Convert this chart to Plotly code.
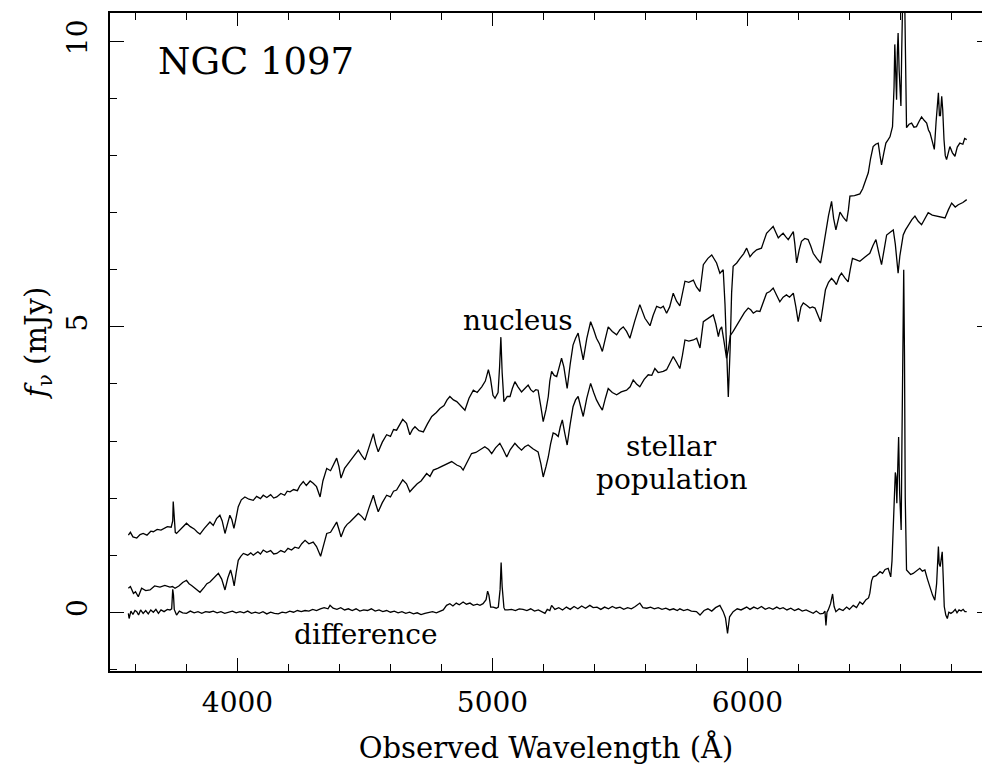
import plotly.graph_objects as go

# ---------------- data ----------------
nuc_wl = [3572, 3580, 3590, 3605, 3618, 3630, 3645, 3660, 3670, 3685, 3700, 3710, 3725, 3740, 3746, 3748, 3751, 3756, 3761, 3775,
          3790, 3800, 3815, 3830, 3843, 3853, 3870, 3885, 3892, 3905, 3918, 3931, 3940, 3951, 3962, 3970, 3978, 3986, 3993, 4003,
          4015, 4029, 4045, 4062, 4075, 4090, 4101, 4115, 4130, 4142, 4154, 4170, 4185, 4195, 4206, 4220, 4235, 4245, 4258, 4270,
          4285, 4297, 4310, 4324, 4335, 4350, 4365, 4378, 4389, 4398, 4406, 4420, 4430, 4441, 4455, 4465, 4474, 4487, 4500, 4515,
          4533, 4542, 4552, 4568, 4585, 4600, 4612, 4624, 4637, 4648, 4663, 4676, 4686, 4696, 4712, 4729, 4745, 4762, 4780, 4794,
          4810, 4822, 4833, 4847, 4860, 4875, 4892, 4908, 4925, 4940, 4958, 4972, 4984, 4992, 5002, 5010, 5022, 5028, 5033, 5038,
          5045, 5058, 5069, 5078, 5088, 5100, 5114, 5127, 5140, 5150, 5160, 5170, 5179, 5190, 5199, 5210, 5219, 5225, 5232, 5242,
          5252, 5262, 5271, 5280, 5293, 5305, 5316, 5326, 5336, 5346, 5356, 5370, 5385, 5397, 5408, 5420, 5431, 5443, 5454, 5470,
          5487, 5500, 5513, 5526, 5539, 5558, 5578, 5598, 5618, 5630, 5644, 5660, 5670, 5683, 5695, 5709, 5722, 5735, 5745, 5755,
          5770, 5788, 5800, 5814, 5827, 5845, 5860, 5872, 5879, 5892, 5905, 5912, 5918, 5925, 5932, 5938, 5944, 5958, 5971, 5985,
          5997, 6010, 6023, 6036, 6055, 6065, 6075, 6088, 6101, 6112, 6121, 6130, 6140, 6150, 6160, 6170, 6180, 6186, 6193, 6203,
          6212, 6225, 6238, 6248, 6258, 6272, 6287, 6296, 6304, 6318, 6330, 6338, 6347, 6355, 6363, 6376, 6389, 6396, 6402, 6420,
          6441, 6452, 6461, 6474, 6483, 6493, 6503, 6513, 6520, 6526, 6535, 6543, 6552, 6559, 6569, 6575, 6578, 6582, 6585, 6588,
          6591, 6595, 6598, 6602, 6605, 6608, 6612, 6616, 6620, 6624, 6634, 6644, 6653, 6663, 6673, 6683, 6693, 6703, 6710, 6716,
          6725, 6733, 6740, 6749, 6753, 6757, 6762, 6766, 6771, 6776, 6781, 6788, 6794, 6804, 6814, 6823, 6833, 6845, 6852, 6860]
nuc_f = [1.35, 1.40, 1.32, 1.30, 1.36, 1.38, 1.35, 1.42, 1.41, 1.45, 1.44, 1.47, 1.50, 1.49, 1.60, 1.94, 1.70, 1.40, 1.38, 1.45,
         1.52, 1.56, 1.50, 1.46, 1.40, 1.37, 1.47, 1.55, 1.58, 1.52, 1.64, 1.70, 1.60, 1.38, 1.60, 1.70, 1.62, 1.47, 1.62, 1.85,
         1.97, 2.02, 1.98, 1.96, 2.03, 1.99, 2.05, 2.01, 2.06, 2.00, 2.02, 2.08, 2.05, 2.12, 2.11, 2.15, 2.13, 2.22, 2.29, 2.22,
         2.30, 2.26, 2.20, 2.02, 2.30, 2.52, 2.48, 2.60, 2.70, 2.55, 2.35, 2.52, 2.58, 2.64, 2.72, 2.80, 2.84, 2.75, 2.67, 2.88,
         3.13, 2.95, 2.81, 2.98, 3.11, 3.08, 3.20, 3.19, 3.30, 3.38, 3.31, 3.11, 3.20, 3.25, 3.18, 3.16, 3.30, 3.43, 3.50, 3.57,
         3.62, 3.72, 3.78, 3.72, 3.69, 3.62, 3.54, 3.75, 3.89, 3.85, 3.95, 4.05, 4.25, 4.10, 3.80, 3.75, 3.85, 4.30, 4.82, 4.20,
         3.69, 3.78, 3.78, 3.92, 4.04, 3.95, 3.86, 3.92, 3.98, 3.90, 3.86, 3.90, 3.89, 3.60, 3.34, 3.55, 3.78, 4.05, 4.22, 4.15,
         4.13, 4.30, 4.45, 4.30, 3.92, 4.35, 4.68, 4.80, 4.89, 4.65, 4.42, 4.80, 5.09, 4.95, 4.80, 4.70, 4.57, 4.80, 5.00, 4.92,
         4.86, 4.95, 5.00, 4.92, 4.80, 5.10, 5.39, 5.15, 5.02, 5.20, 5.36, 5.33, 5.36, 5.24, 5.35, 5.59, 5.45, 5.37, 5.60, 5.80,
         5.78, 5.82, 5.70, 5.62, 6.09, 6.20, 6.26, 6.18, 6.12, 5.94, 6.00, 5.40, 4.50, 3.77, 4.60, 5.60, 6.06, 6.12, 6.20, 6.28,
         6.38, 6.23, 6.30, 6.35, 6.38, 6.50, 6.64, 6.70, 6.76, 6.65, 6.56, 6.60, 6.64, 6.58, 6.53, 6.60, 6.67, 6.45, 6.12, 6.35,
         6.50, 6.55, 6.53, 6.42, 6.29, 6.20, 6.12, 6.35, 6.60, 6.95, 7.20, 6.90, 6.70, 6.88, 7.01, 6.92, 6.85, 7.05, 7.29, 7.30,
         7.33, 7.42, 7.54, 7.70, 7.95, 8.16, 8.20, 8.22, 8.00, 7.84, 8.05, 8.22, 8.28, 8.33, 8.51, 9.20, 9.95, 9.30, 8.98, 9.80,
         10.15, 9.50, 9.27, 8.87, 9.80, 10.8, 11.5, 11.0, 9.50, 8.49, 8.55, 8.57, 8.50, 8.51, 8.60, 8.68, 8.62, 8.57, 8.45, 8.40,
         8.25, 8.11, 8.60, 9.10, 8.70, 8.70, 9.04, 8.80, 8.28, 8.00, 7.93, 8.05, 8.16, 8.05, 7.99, 8.15, 8.22, 8.20, 8.30, 8.28]

stel_wl = [3572, 3580, 3592, 3600, 3611, 3618, 3624, 3640, 3657, 3675, 3696, 3715, 3735, 3745, 3755, 3770, 3785, 3800, 3810, 3820,
           3835, 3853, 3870, 3880, 3892, 3908, 3925, 3938, 3951, 3962, 3973, 3980, 3987, 3995, 4003, 4013, 4023, 4040, 4052, 4062,
           4080, 4090, 4101, 4115, 4130, 4142, 4154, 4170, 4185, 4198, 4212, 4225, 4240, 4252, 4265, 4280, 4297, 4310, 4326, 4338,
           4350, 4365, 4378, 4389, 4398, 4406, 4420, 4430, 4441, 4458, 4474, 4487, 4500, 4515, 4533, 4542, 4552, 4568, 4585, 4600,
           4612, 4624, 4637, 4648, 4663, 4676, 4690, 4705, 4720, 4742, 4755, 4768, 4785, 4800, 4820, 4840, 4860, 4875, 4885, 4900,
           4918, 4935, 4952, 4970, 4985, 4997, 5012, 5029, 5042, 5056, 5070, 5088, 5100, 5114, 5127, 5140, 5160, 5179, 5190, 5199,
           5210, 5219, 5228, 5238, 5248, 5258, 5266, 5274, 5283, 5293, 5305, 5316, 5326, 5336, 5346, 5356, 5370, 5385, 5397, 5408,
           5420, 5431, 5443, 5454, 5470, 5487, 5505, 5526, 5540, 5552, 5565, 5578, 5595, 5611, 5625, 5637, 5650, 5670, 5683, 5695,
           5709, 5722, 5735, 5745, 5755, 5770, 5788, 5801, 5814, 5827, 5845, 5866, 5876, 5886, 5892, 5899, 5908, 5918, 5925, 5933,
           5944, 5958, 5971, 5988, 6003, 6013, 6023, 6036, 6049, 6062, 6075, 6088, 6101, 6115, 6127, 6140, 6153, 6165, 6180, 6190,
           6199, 6210, 6219, 6232, 6245, 6255, 6265, 6277, 6287, 6296, 6306, 6318, 6330, 6340, 6349, 6360, 6369, 6382, 6395, 6403,
           6412, 6425, 6441, 6460, 6480, 6492, 6504, 6515, 6526, 6536, 6546, 6560, 6572, 6580, 6587, 6591, 6598, 6611, 6620, 6631,
           6645, 6657, 6670, 6683, 6695, 6709, 6725, 6742, 6760, 6775, 6788, 6801, 6815, 6827, 6845, 6860]
stel_f = [0.42, 0.45, 0.33, 0.36, 0.27, 0.35, 0.42, 0.38, 0.39, 0.46, 0.44, 0.47, 0.44, 0.45, 0.42, 0.46, 0.52, 0.56, 0.50, 0.47,
          0.42, 0.35, 0.44, 0.50, 0.53, 0.60, 0.68, 0.58, 0.39, 0.60, 0.74, 0.62, 0.46, 0.70, 0.91, 0.98, 1.03, 1.00, 1.04, 1.00,
          1.06, 1.02, 1.09, 1.05, 1.08, 1.02, 1.03, 1.08, 1.05, 1.12, 1.09, 1.14, 1.12, 1.20, 1.26, 1.20, 1.23, 1.15, 0.98, 1.18,
          1.38, 1.40, 1.50, 1.58, 1.45, 1.32, 1.48, 1.54, 1.58, 1.66, 1.73, 1.68, 1.61, 1.82, 2.05, 1.90, 1.76, 1.92, 2.05, 2.02,
          2.12, 2.14, 2.25, 2.32, 2.25, 2.11, 2.18, 2.25, 2.30, 2.43, 2.38, 2.49, 2.52, 2.55, 2.60, 2.64, 2.58, 2.55, 2.49, 2.62,
          2.78, 2.80, 2.85, 2.90, 2.85, 2.78, 2.88, 2.96, 2.85, 2.72, 2.85, 2.96, 2.90, 2.84, 2.90, 2.93, 2.86, 2.81, 2.60, 2.37,
          2.55, 2.72, 2.95, 3.14, 3.12, 3.08, 3.25, 3.37, 3.15, 2.93, 3.30, 3.60, 3.72, 3.78, 3.60, 3.43, 3.75, 4.01, 3.85, 3.72,
          3.62, 3.54, 3.75, 3.92, 3.85, 3.81, 3.86, 3.89, 3.95, 4.07, 4.00, 3.95, 4.08, 4.16, 4.15, 4.27, 4.20, 4.22, 4.25, 4.35,
          4.48, 4.38, 4.27, 4.50, 4.77, 4.75, 4.77, 4.80, 4.63, 5.09, 5.15, 5.21, 5.05, 4.83, 4.95, 5.00, 4.75, 4.45, 4.60, 4.85,
          4.92, 5.02, 5.12, 5.25, 5.33, 5.30, 5.24, 5.28, 5.27, 5.45, 5.59, 5.62, 5.68, 5.55, 5.44, 5.52, 5.56, 5.52, 5.59, 5.35,
          5.09, 5.35, 5.42, 5.38, 5.33, 5.35, 5.33, 5.20, 5.09, 5.35, 5.65, 5.78, 5.85, 5.80, 5.74, 5.88, 5.94, 5.86, 5.79, 6.00,
          6.20, 6.18, 6.15, 6.22, 6.29, 6.42, 6.53, 6.30, 6.09, 6.35, 6.61, 6.66, 6.70, 6.45, 6.05, 5.94, 6.25, 6.61, 6.70, 6.79,
          6.88, 6.94, 6.85, 6.79, 6.90, 7.00, 6.96, 6.94, 6.92, 6.91, 7.05, 7.17, 7.10, 7.14, 7.18, 7.23]

diff_wl = [3572, 3575, 3582, 3590, 3598, 3605, 3612, 3620, 3630, 3640, 3650, 3660, 3670, 3680, 3690, 3700, 3712, 3725, 3735, 3742,
           3746, 3749, 3752, 3761, 3772, 3785, 3800, 3815, 3830, 3845, 3860, 3875, 3890, 3905, 3920, 3935, 3950, 3965, 3980, 3995,
           4010, 4025, 4040, 4055, 4070, 4085, 4100, 4115, 4130, 4145, 4160, 4175, 4190, 4205, 4220, 4235, 4250, 4265, 4280, 4295,
           4310, 4325, 4340, 4355, 4363, 4375, 4390, 4405, 4420, 4435, 4450, 4465, 4480, 4495, 4510, 4525, 4540, 4555, 4570, 4585,
           4600, 4615, 4630, 4645, 4660, 4675, 4690, 4705, 4720, 4735, 4750, 4765, 4780, 4795, 4807, 4820, 4833, 4845, 4858, 4870,
           4885, 4898, 4912, 4925, 4940, 4951, 4963, 4975, 4981, 4986, 4993, 5003, 5015, 5023, 5030, 5034, 5038, 5045, 5049, 5060,
           5075, 5090, 5105, 5120, 5135, 5150, 5165, 5180, 5195, 5206, 5215, 5225, 5232, 5245, 5260, 5275, 5290, 5305, 5320, 5335,
           5350, 5365, 5382, 5395, 5410, 5425, 5440, 5455, 5470, 5485, 5500, 5515, 5530, 5545, 5560, 5578, 5590, 5605, 5620, 5635,
           5650, 5665, 5680, 5695, 5710, 5725, 5735, 5750, 5765, 5780, 5800, 5814, 5830, 5845, 5860, 5875, 5892, 5905, 5914, 5922,
           5930, 5944, 5960, 5975, 5997, 6010, 6025, 6040, 6055, 6070, 6085, 6100, 6115, 6127, 6140, 6155, 6170, 6185, 6200, 6215,
           6230, 6245, 6258, 6270, 6285, 6297, 6304, 6308, 6312, 6317, 6326, 6334, 6340, 6347, 6360, 6375, 6389, 6400, 6415, 6428,
           6441, 6452, 6465, 6475, 6480, 6487, 6493, 6505, 6520, 6530, 6540, 6552, 6558, 6562, 6567, 6572, 6576, 6580, 6583, 6586,
           6590, 6593, 6597, 6600, 6603, 6606, 6610, 6613, 6616, 6619, 6624, 6632, 6640, 6650, 6660, 6668, 6676, 6686, 6696, 6706,
           6716, 6726, 6735, 6742, 6749, 6752, 6756, 6760, 6764, 6768, 6772, 6778, 6784, 6790, 6798, 6807, 6815, 6822, 6830, 6838,
           6846, 6853, 6860]
diff_f = [-0.02, -0.11, 0.02, -0.04, 0.03, 0.01, -0.05, 0.04, -0.02, 0.03, -0.03, 0.04, 0.00, 0.05, -0.02, 0.04, 0.01, 0.05, 0.04, 0.06,
          0.40, 0.30, 0.05, -0.05, 0.02, -0.01, -0.02, 0.02, -0.01, 0.01, -0.02, 0.01, 0.00, 0.02, -0.01, 0.01, -0.02, 0.00, 0.02, -0.01,
          0.01, -0.01, 0.02, -0.02, 0.00, -0.02, 0.01, -0.03, 0.00, -0.02, -0.03, 0.00, -0.01, 0.02, 0.00, 0.03, 0.01, 0.03, 0.02, 0.05,
          0.03, 0.06, 0.08, 0.06, 0.12, 0.07, 0.05, 0.08, 0.04, 0.06, 0.03, 0.06, 0.02, 0.04, 0.03, 0.06, 0.02, 0.04, 0.01, 0.03,
          0.00, 0.02, -0.01, 0.01, -0.02, 0.00, -0.03, -0.01, -0.04, -0.02, -0.01, 0.01, -0.01, 0.02, 0.04, 0.12, 0.15, 0.11, 0.16, 0.13,
          0.18, 0.14, 0.16, 0.12, 0.14, 0.12, 0.15, 0.22, 0.37, 0.30, 0.09, 0.09, 0.07, 0.09, 0.40, 0.87, 0.45, 0.08, 0.04, 0.04,
          0.05, 0.03, 0.06, 0.05, 0.03, 0.06, 0.02, 0.04, 0.00, -0.02, 0.05, 0.03, 0.12, 0.05, 0.08, 0.04, 0.09, 0.05, 0.10, 0.06,
          0.11, 0.07, 0.12, 0.08, 0.09, 0.05, 0.09, 0.06, 0.10, 0.07, 0.09, 0.05, 0.08, 0.06, 0.10, 0.16, 0.08, 0.07, 0.09, 0.06,
          0.08, 0.05, 0.07, 0.04, 0.06, 0.03, 0.06, 0.03, 0.05, 0.02, 0.01, -0.05, 0.03, 0.06, 0.02, 0.08, 0.12, 0.01, -0.10, -0.37,
          -0.08, 0.01, 0.06, 0.04, 0.09, 0.05, 0.09, 0.06, 0.10, 0.05, 0.08, 0.05, 0.09, 0.06, 0.08, 0.04, 0.07, 0.03, 0.06, 0.02,
          0.04, 0.00, -0.02, 0.02, -0.03, -0.02, 0.02, -0.23, 0.00, 0.04, 0.15, 0.32, 0.10, 0.01, 0.06, 0.03, 0.09, 0.05, 0.12, 0.08,
          0.18, 0.14, 0.22, 0.25, 0.33, 0.55, 0.62, 0.64, 0.71, 0.68, 0.75, 0.77, 0.70, 0.62, 0.90, 1.61, 2.10, 2.45, 2.37, 1.91,
          2.60, 3.07, 2.10, 1.61, 1.44, 3.00, 5.50, 6.00, 4.50, 2.00, 0.74, 0.70, 0.66, 0.68, 0.72, 0.75, 0.77, 0.72, 0.74, 0.58,
          0.42, 0.30, 0.21, 0.50, 1.15, 0.85, 0.80, 0.95, 1.06, 0.60, 0.10, -0.05, -0.11, 0.00, -0.02, 0.01, 0.05, -0.01, 0.04, 0.02,
          0.05, 0.01, 0.01]

x_major = [4000, 5000, 6000]
x_major_text = ["4000", "5000", "6000"]
y_major = [0, 5, 10]
y_major_text = ["0", "5", "10"]

labels_text = ["nucleus", "stellar", "population", "difference"]
labels_x = [5100, 5704, 5704, 4504]
labels_y = [5.12, 2.91, 2.33, -0.39]

# ---------------- figure ----------------
FONT = "DejaVu Serif"
line = dict(color="black", width=1.3)

fig = go.Figure()
fig.add_trace(go.Scatter(x=nuc_wl, y=nuc_f, mode="lines", line=line, hoverinfo="skip", showlegend=False))
fig.add_trace(go.Scatter(x=stel_wl, y=stel_f, mode="lines", line=line, hoverinfo="skip", showlegend=False))
fig.add_trace(go.Scatter(x=diff_wl, y=diff_f, mode="lines", line=line, hoverinfo="skip", showlegend=False))
# carrier trace for the right-hand tick axis
fig.add_trace(go.Scatter(x=[diff_wl[0]], y=[None], yaxis="y2", mode="lines", hoverinfo="skip", showlegend=False))

for t, x, y in zip(labels_text, labels_x, labels_y):
    fig.add_annotation(x=x, y=y, xref="x", yref="y", text=t, showarrow=False,
                       font=dict(family=FONT, size=28, color="black"), xanchor="center", yanchor="middle")

fig.add_annotation(x=3680, y=9.65, xref="x", yref="y", text="NGC 1097", showarrow=False,
                   font=dict(family=FONT, size=37, color="black"), xanchor="left", yanchor="middle")

fig.update_layout(
    width=982, height=770,
    margin=dict(l=110, r=0, t=13, b=99, pad=0),
    paper_bgcolor="white", plot_bgcolor="white",
    font=dict(family=FONT, color="black"),
    xaxis=dict(
        range=[3500, 6920], showgrid=False, zeroline=False,
        showline=True, linecolor="black", linewidth=1.6, mirror="ticks",
        ticks="inside", ticklen=13, tickwidth=1.4, tickcolor="black",
        tickvals=x_major, ticktext=x_major_text, ticklabelstandoff=6,
        tickfont=dict(family=FONT, size=28, color="black"),
        minor=dict(ticks="inside", ticklen=7, tickwidth=1.2, tickcolor="black", dtick=200, tick0=0, showgrid=False),
        title=dict(text="Observed Wavelength (Å)", font=dict(family=FONT, size=29, color="black"), standoff=19),
    ),
    yaxis=dict(
        range=[-1.03, 10.5], showgrid=False, zeroline=False,
        showline=True, linecolor="black", linewidth=1.6, mirror=False,
        ticks="inside", ticklen=14, tickwidth=1.4, tickcolor="black",
        tickvals=y_major, ticktext=y_major_text, tickangle=-90, ticklabelstandoff=10,
        tickfont=dict(family=FONT, size=28, color="black"),
        minor=dict(ticks="inside", ticklen=7, tickwidth=1.2, tickcolor="black", dtick=1, tick0=0, showgrid=False),
        title=dict(text="<i>f</i><sub>ν</sub> (mJy)", font=dict(family=FONT, size=29, color="black"), standoff=6),
    ),
    yaxis2=dict(
        overlaying="y", side="right", range=[-1.03, 10.5], showgrid=False, zeroline=False,
        showline=False, ticks="inside", ticklen=5, tickwidth=1.4, tickcolor="black",
        tickvals=y_major, showticklabels=False,
    ),
)

fig.write_html("out.html", config={"displayModeBar": False})
